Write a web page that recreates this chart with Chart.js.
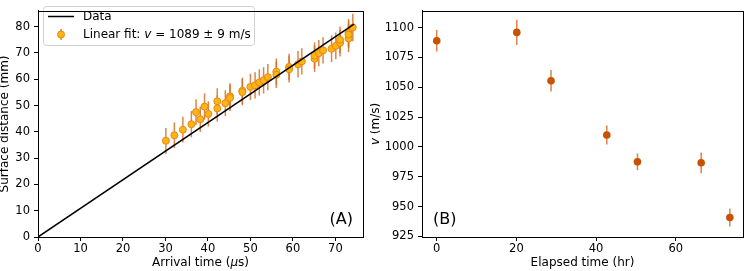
<!DOCTYPE html>
<html>
<head>
<meta charset="utf-8">
<script src="https://cdn.jsdelivr.net/npm/chart.js@4.4.1/dist/chart.umd.min.js"></script>
<style>
  body { margin: 0; background: #fff; }
  #wrap { position: relative; width: 747px; height: 271px; }
  #chartA { position: absolute; left: 0; top: 0; }
  #chartB { position: absolute; left: 370px; top: 0; }
</style>
</head>
<body>
<div id="wrap">
  <canvas id="chartA" width="370" height="271"></canvas>
  <canvas id="chartB" width="377" height="271"></canvas>
</div>
<script>
// === DATA (A) arrival time vs distance ===
const arrivalTime = [30.1, 32.1, 34.1, 36.1, 37.2, 38.2, 39.2, 40.1, 42.2, 42.2, 44.1, 45.2, 45.2,
  48.1, 48.1, 50.0, 51.1, 52.1, 53.1, 54.1, 56.1, 56.1, 59.1, 59.1, 61.2, 62.1, 65.1, 65.1,
  66.1, 67.1, 69.1, 70.1, 71.1, 71.1, 73.1, 73.1, 73.1, 74.1];
const surfaceDist = [36.6, 38.7, 40.8, 42.9, 47.5, 44.8, 49.6, 46.8, 51.6, 48.9, 50.9, 53.5, 52.9,
  55.6, 55.1, 57.1, 57.7, 58.8, 59.6, 60.8, 62.9, 61.7, 64.7, 63.8, 65.7, 66.8, 67.8, 69.0,
  69.9, 71.0, 71.6, 72.7, 73.8, 75.0, 75.5, 77.7, 77.0, 79.7];
const distErr = [4.9, 4.9, 4.9, 5.0, 4.9, 4.8, 5.0, 4.8, 5.0, 5.0, 4.9, 5.0, 5.0,
  5.0, 5.0, 5.0, 5.0, 5.0, 5.0, 5.0, 5.0, 5.0, 5.0, 5.0, 5.0, 5.0, 5.0, 5.0,
  5.0, 5.0, 5.1, 5.1, 5.1, 5.1, 5.2, 5.2, 5.2, 5.2];
const fitTime = [0, 74.4];
const fitDist = [0, 81.0];
const xTicksA = [0, 10, 20, 30, 40, 50, 60, 70];
const yTicksA = [0, 10, 20, 30, 40, 50, 60, 70, 80];

// === DATA (B) velocity vs elapsed time ===
const elapsedTime = [0, 20.1, 28.7, 42.7, 50.4, 66.4, 73.6];
const velocity = [1089, 1096, 1055.5, 1010, 987.5, 986.7, 940.8];
const velErr = [9, 10.5, 9, 8, 7, 8.7, 7.5];
const xTicksB = [0, 20, 40, 60];
const yTicksB = [925, 950, 975, 1000, 1025, 1050, 1075, 1100];

const FONT = "'DejaVu Sans', sans-serif";
const TICK_SIZE = 11.5;
const LABEL_SIZE = 12;

// width of a line of text made of parts {t, it}
function richWidth(ctx, parts, size) {
  let w = 0;
  parts.forEach(p => {
    ctx.font = (p.it ? 'italic ' : '') + size + 'px ' + FONT;
    w += ctx.measureText(p.t).width;
  });
  return w;
}
function drawRich(ctx, parts, x, y, size, align, rotate) {
  ctx.save();
  ctx.translate(x, y);
  if (rotate) ctx.rotate(-Math.PI / 2);
  const w = richWidth(ctx, parts, size);
  let cx = align === 'center' ? -w / 2 : 0;
  ctx.fillStyle = '#000';
  ctx.textBaseline = 'middle';
  ctx.textAlign = 'left';
  parts.forEach(p => {
    ctx.font = (p.it ? 'italic ' : '') + size + 'px ' + FONT;
    ctx.fillText(p.t, cx, 0);
    cx += ctx.measureText(p.t).width;
  });
  ctx.restore();
}

// error bars + frame + titles
const errorBars = {
  id: 'errorBars',
  beforeDatasetsDraw(chart) {
    const ctx = chart.ctx;
    const xs = chart.scales.x, ys = chart.scales.y;
    chart.data.datasets.forEach(ds => {
      if (!ds.errors) return;
      ctx.save();
      ctx.strokeStyle = ds.errColor;
      ctx.lineWidth = 1.5;
      ds.data.forEach((p, i) => {
        const px = xs.getPixelForValue(p.x);
        ctx.beginPath();
        ctx.moveTo(px, ys.getPixelForValue(p.y - ds.errors[i]));
        ctx.lineTo(px, ys.getPixelForValue(p.y + ds.errors[i]));
        ctx.stroke();
      });
      ctx.restore();
    });
  },
  afterDraw(chart) {
    const ctx = chart.ctx, a = chart.chartArea;
    ctx.save();
    ctx.strokeStyle = '#000';
    ctx.lineWidth = 1;
    ctx.strokeRect(Math.round(a.left) + 0.5, Math.round(a.top) + 0.5,
      Math.round(a.right - a.left), Math.round(a.bottom - a.top));
    ctx.restore();
    const o = chart.options.plugins.errorBars;
    if (o.xTitle) drawRich(ctx, o.xTitle, (a.left + a.right) / 2, 263, LABEL_SIZE, 'center', false);
    if (o.yTitle) drawRich(ctx, o.yTitle, o.yTitleX, (a.top + a.bottom) / 2, LABEL_SIZE, 'center', true);
    if (o.tag) {
      ctx.save();
      ctx.font = '16px ' + FONT;
      ctx.fillStyle = '#000';
      ctx.textBaseline = 'middle';
      ctx.textAlign = o.tag.align;
      ctx.fillText(o.tag.text, o.tag.align === 'right' ? a.right - 10 : a.left + 11, a.bottom - 17);
      ctx.restore();
    }
  }
};

// legend of panel A
const legendA = {
  id: 'legendA',
  afterDatasetsDraw(chart) {
    const ctx = chart.ctx;
    ctx.save();
    ctx.beginPath();
    ctx.roundRect(43.5, 6.5, 211, 39, 3);
    ctx.fillStyle = 'rgba(255,255,255,0.8)';
    ctx.fill();
    ctx.strokeStyle = '#d0d0d0';
    ctx.lineWidth = 1;
    ctx.stroke();
    // line sample
    ctx.beginPath();
    ctx.moveTo(48, 16.5);
    ctx.lineTo(74, 16.5);
    ctx.strokeStyle = '#000';
    ctx.lineWidth = 1.5;
    ctx.stroke();
    // marker sample
    ctx.beginPath();
    ctx.moveTo(61, 29);
    ctx.lineTo(61, 40);
    ctx.strokeStyle = 'rgba(210,105,30,0.85)';
    ctx.stroke();
    ctx.beginPath();
    ctx.arc(61, 34.5, 3.5, 0, Math.PI * 2);
    ctx.fillStyle = '#fdb515';
    ctx.fill();
    ctx.strokeStyle = '#e8870e';
    ctx.lineWidth = 1;
    ctx.stroke();
    ctx.restore();
    drawRich(ctx, [{ t: 'Data' }], 83, 16.5, LABEL_SIZE, 'left', false);
    drawRich(ctx, [{ t: 'Linear fit: ' }, { t: 'v', it: true }, { t: ' = 1089 ± 9 m/s' }],
      83, 34.5, LABEL_SIZE, 'left', false);
  }
};

function axis(min, max, ticks, fitSize, isX) {
  return {
    type: 'linear',
    min: min,
    max: max,
    afterBuildTicks: s => { s.ticks = ticks.map(v => ({ value: v })); },
    afterFit: s => { if (isX) s.height = fitSize; else s.width = fitSize; },
    grid: { display: true, drawOnChartArea: false, drawTicks: true, tickLength: 4, tickColor: '#000' },
    border: { display: true, color: '#000' },
    ticks: {
      autoSkip: false, maxRotation: 0, padding: isX ? 1 : 4, color: '#000',
      font: { family: FONT, size: TICK_SIZE },
      callback: v => String(v)
    },
    title: { display: false }
  };
}

const common = {
  responsive: false,
  animation: false,
  devicePixelRatio: 1,
  plugins: { legend: { display: false }, tooltip: { enabled: false } }
};

new Chart(document.getElementById('chartA'), {
  type: 'scatter',
  data: {
    datasets: [
      {
        label: 'Data',
        data: fitTime.map((t, i) => ({ x: t, y: fitDist[i] })),
        showLine: true,
        borderColor: '#000',
        borderWidth: 1.5,
        pointRadius: 0
      },
      {
        label: 'Linear fit',
        data: arrivalTime.map((t, i) => ({ x: t, y: surfaceDist[i] })),
        errors: distErr,
        errColor: 'rgba(214,112,40,0.85)',
        backgroundColor: '#fdb515',
        borderColor: '#e8870e',
        borderWidth: 1,
        pointRadius: 3.5
      }
    ]
  },
  options: {
    ...common,
    layout: { padding: { top: 2, right: 7, left: 0, bottom: 0 } },
    scales: {
      x: axis(0, 76.5, xTicksA, 34, true),
      y: axis(0, 86, yTicksA, 38, false)
    },
    plugins: {
      ...common.plugins,
      errorBars: {
        xTitle: [{ t: 'Arrival time (' }, { t: 'μ', it: true }, { t: 's)' }],
        yTitle: [{ t: 'Surface distance (mm)' }],
        yTitleX: 5,
        tag: { text: '(A)', align: 'right' }
      }
    }
  },
  plugins: [errorBars, legendA]
});

new Chart(document.getElementById('chartB'), {
  type: 'scatter',
  data: {
    datasets: [
      {
        label: 'v',
        data: elapsedTime.map((t, i) => ({ x: t, y: velocity[i] })),
        errors: velErr,
        errColor: 'rgba(210,100,30,0.8)',
        backgroundColor: '#c85200',
        borderColor: '#c85200',
        borderWidth: 0,
        pointRadius: 3.8
      }
    ]
  },
  options: {
    ...common,
    layout: { padding: { top: 2, right: 2, left: 0, bottom: 0 } },
    scales: {
      x: axis(-3.7, 76.9, xTicksB, 34, true),
      y: axis(924.5, 1114, yTicksB, 52, false)
    },
    plugins: {
      ...common.plugins,
      errorBars: {
        xTitle: [{ t: 'Elapsed time (hr)' }],
        yTitle: [{ t: 'v', it: true }, { t: ' (m/s)' }],
        yTitleX: 6,
        tag: { text: '(B)', align: 'left' }
      }
    }
  },
  plugins: [errorBars]
});
</script>
</body>
</html>
